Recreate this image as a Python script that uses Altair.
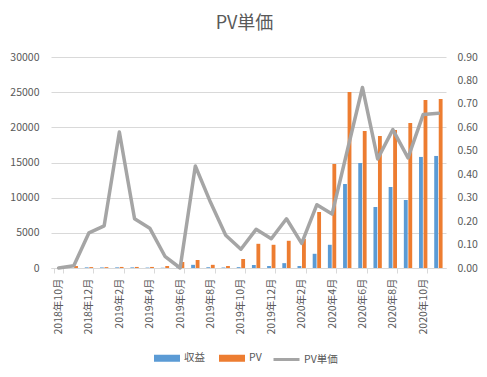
import altair as alt
import pandas as pd

months = [
    "2018年10月", "2018年11月", "2018年12月",
    "2019年1月", "2019年2月", "2019年3月", "2019年4月", "2019年5月", "2019年6月",
    "2019年7月", "2019年8月", "2019年9月", "2019年10月", "2019年11月", "2019年12月",
    "2020年1月", "2020年2月", "2020年3月", "2020年4月", "2020年5月", "2020年6月",
    "2020年7月", "2020年8月", "2020年9月", "2020年10月", "2020年11月",
]
tick_labels = months[::2]

revenue = [0, 2, 90, 80, 90, 90, 60, 40, 80, 450, 110, 70, 120,
           430, 280, 690, 280, 2020, 3300, 11940, 14930, 8670, 11520, 9670, 15790, 15930]
pv = [0, 280, 130, 120, 150, 150, 150, 280, 850, 1140, 450, 280, 1280,
      3440, 3300, 3870, 4120, 7960, 14790, 25030, 19480, 18770, 19620, 20620, 23890, 24030]
unit_price = [0.00, 0.01, 0.15, 0.18, 0.58, 0.21, 0.17, 0.05, 0.00, 0.435, 0.28, 0.14, 0.08,
              0.165, 0.125, 0.21, 0.105, 0.27, 0.23, 0.50, 0.77, 0.465, 0.59, 0.47, 0.655, 0.66]

left_ticks = [0, 5000, 10000, 15000, 20000, 25000, 30000]
right_ticks = [0.0, 0.1, 0.2, 0.3, 0.4, 0.5, 0.6, 0.7, 0.8, 0.9]

bar_series = ["収益", "PV"]
line_series = ["PV単価"]

bars_df = pd.DataFrame({
    "month": months * 2,
    "series": [bar_series[0]] * len(months) + [bar_series[1]] * len(months),
    "value": revenue + pv,
})
line_df = pd.DataFrame({"month": months, "series": line_series[0], "value": unit_price})

FONT = "Noto Sans CJK JP"
TXT = "#595959"
GRID = "#D9D9D9"

x_enc = alt.X(
    "month:N", sort=months,
    scale=alt.Scale(paddingInner=0.45, paddingOuter=0.225),
    axis=alt.Axis(
        values=tick_labels, labelAngle=-90, title=None,
        domainColor=GRID, tickColor=GRID, tickSize=5, tickBand="extent",
        labelPadding=5, labelFontSize=10.5, labelColor=TXT, labelFont=FONT,
        grid=False,
    ),
)

bars = alt.Chart(bars_df).mark_bar().encode(
    x=x_enc,
    xOffset=alt.XOffset("series:N", sort=bar_series, scale=alt.Scale(paddingInner=0.15)),
    y=alt.Y(
        "value:Q",
        scale=alt.Scale(domain=[0, 30000], nice=False),
        axis=alt.Axis(
            values=left_ticks, format="d", title=None, grid=True, gridColor=GRID,
            domain=False, ticks=False, labelPadding=12,
            labelColor=TXT, labelFontSize=10.5, labelFont=FONT,
        ),
    ),
    color=alt.Color(
        "series:N",
        scale=alt.Scale(domain=bar_series, range=["#5B9BD5", "#ED7D31"]),
        legend=alt.Legend(
            orient="none", legendX=103, legendY=288, direction="horizontal",
            title=None, symbolType="M-1,-0.27L1,-0.27L1,0.27L-1,0.27Z",
            symbolSize=676, symbolStrokeWidth=0, labelOffset=4, columnPadding=14,
            labelFontSize=10.5, labelColor=TXT, labelFont=FONT,
        ),
    ),
)

line = alt.Chart(line_df).mark_line(
    strokeWidth=3.5, strokeJoin="round", strokeCap="round"
).encode(
    x=x_enc,
    y=alt.Y(
        "value:Q",
        scale=alt.Scale(domain=[0, 0.9], nice=False),
        axis=alt.Axis(
            orient="right", values=right_ticks, format=".2f", title=None,
            grid=False, domain=False, ticks=False, labelPadding=11,
            labelColor=TXT, labelFontSize=10.5, labelFont=FONT,
        ),
    ),
    stroke=alt.Stroke(
        "series:N",
        scale=alt.Scale(domain=line_series, range=["#A5A5A5"]),
        legend=alt.Legend(
            orient="none", legendX=221, legendY=288, direction="horizontal",
            title=None, symbolType="stroke", symbolSize=676, symbolStrokeWidth=3,
            labelOffset=3, labelFontSize=10.5, labelColor=TXT, labelFont=FONT,
        ),
    ),
)

chart = alt.layer(bars, line).resolve_scale(
    y="independent", color="independent"
).properties(
    width=395, height=211,
    padding={"left": 51, "top": 57, "right": 41, "bottom": 109},
    autosize="none",
    background="white",
    title=alt.TitleParams(
        "PV単価", fontSize=18, font=FONT, fontWeight="normal", color=TXT,
        anchor="middle", offset=19, dx=-4,
    ),
).configure_view(stroke=None)

chart.save("out.html", embed_options={"renderer": "svg", "actions": False})
